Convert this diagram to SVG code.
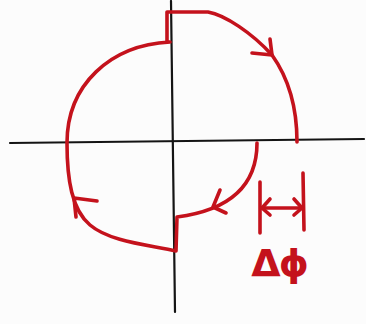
<svg xmlns="http://www.w3.org/2000/svg" width="366" height="324" viewBox="0 0 366 324">
<style>
.ax{fill:none;stroke:#141414;stroke-width:2.2;stroke-linecap:round}
.rd{fill:none;stroke:#c4121c;stroke-width:3.6;stroke-linecap:round;stroke-linejoin:round}
.rt{fill:#c4121c;font-family:"DejaVu Sans","Liberation Sans",sans-serif;font-weight:bold;font-size:38px}
</style>
<rect width="366" height="324" fill="#fcfcfc"/>
<g id="axes">
<path class="ax" d="M10,143 L364,139"/>
<path class="ax" d="M171,1 L175,312"/>
</g>
<g id="curve">
<path class="rd" d="M167,42 L167,12 L208,12 C225,15 252,33 272,55 Q297,90 297,142"/>
<path class="rd" d="M257,143 C257,185 230,210 177,217 L176,251 C150,245 110,242 90,225 C72,210 67,180 67,143 C67,85 110,45 170,42 L167,42"/>
<polyline class="rd" points="252,53 272,55 270,39"/>
<polyline class="rd" points="220,190 213,207 226,213"/>
<polyline class="rd" points="97,201 74,198 76,217"/>
</g>
<g id="delta-phi">
<path class="rd" d="M260,182 L260,233 M303,173 L304,230 M262,208 L302,208"/>
<polyline class="rd" points="270,199 262,208 270,215"/>
<polyline class="rd" points="294,199 302,208 294,215"/>
<text class="rt" text-anchor="middle"><tspan x="266" y="276">Δ</tspan><tspan x="294" y="276">ϕ</tspan></text>
</g>
</svg>
